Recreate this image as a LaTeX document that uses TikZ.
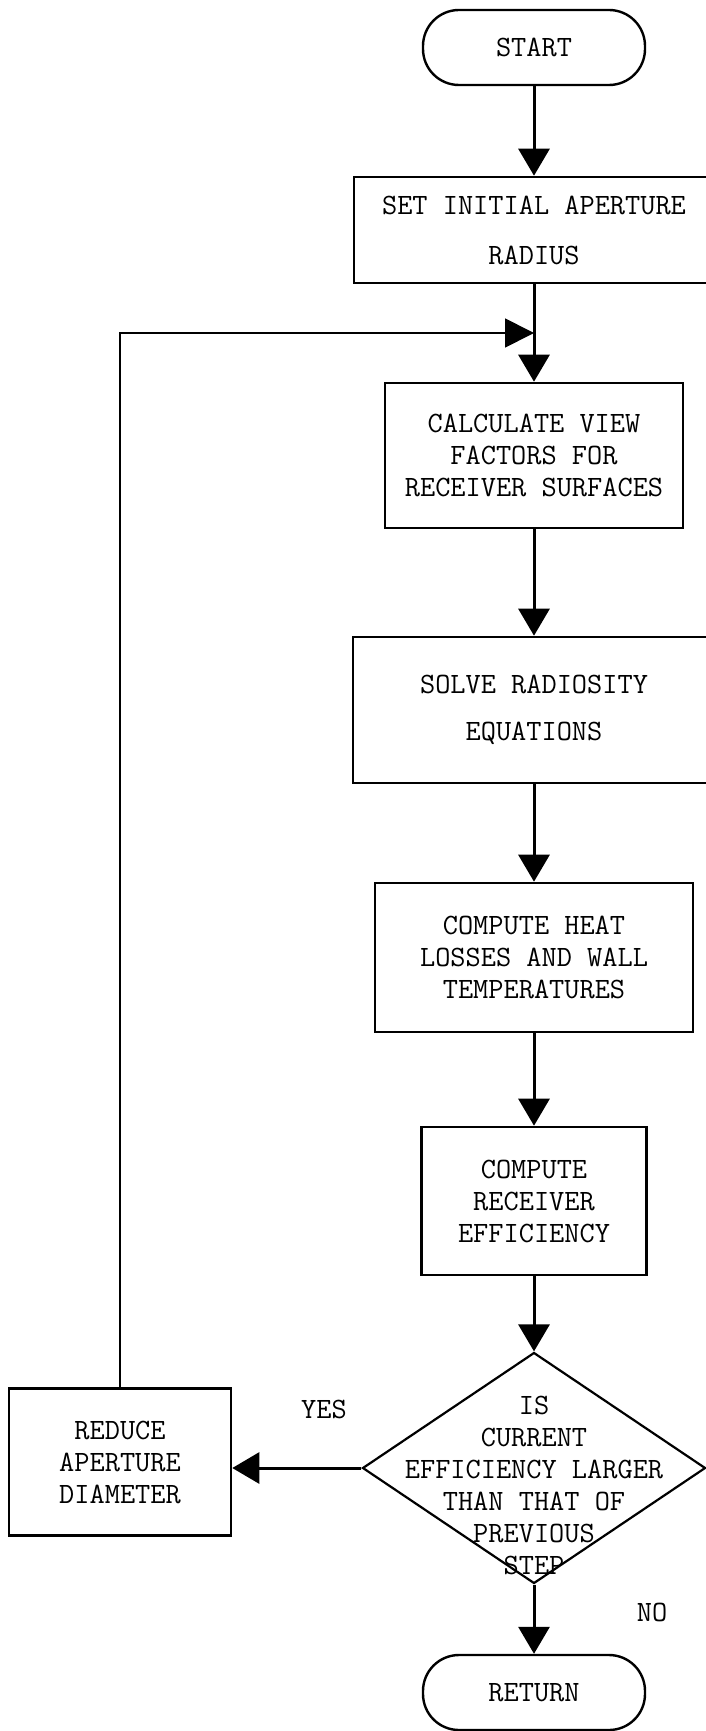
\documentclass[tikz,border=0pt]{standalone}
\usepackage{fontspec}
\usetikzlibrary{shapes.geometric,arrows.meta,positioning,calc}

\begin{document}
\begin{tikzpicture}[
    x=1pt, y=-1pt,
    every node/.style={font=\ttfamily\fontsize{29.5}{32}\selectfont},
    terminal/.style={rectangle, draw, line width=2.4pt, rounded corners=36pt, minimum width=222pt, minimum height=75pt},
    process/.style={rectangle, draw, line width=2.6pt, align=center, inner sep=0pt},
    decision/.style={diamond, draw, line width=2.2pt, minimum width=343pt, minimum height=231pt, inner sep=0pt},
    flow/.style={line width=3pt, -{Triangle[length=27pt, width=31pt]}},
    loopback/.style={line width=1.8pt, -{Triangle[length=29pt, width=29pt]}}
]

\useasboundingbox[fill=white] (0,0) rectangle (705,1731);

% Start
\node[terminal] (start) at (534, 47.5) {START};

% Main column of steps
\node[process, minimum width=360pt, minimum height=106pt] (setrad) at (534, 230) {SET INITIAL APERTURE\\[18pt]RADIUS};
\node[process, minimum width=298pt, minimum height=145pt] (calc) at (534, 455.5) {CALCULATE VIEW\\FACTORS FOR\\RECEIVER SURFACES};
\node[process, minimum width=362pt, minimum height=146pt] (solve) at (534, 710) {SOLVE RADIOSITY\\[15pt]EQUATIONS};
\node[process, minimum width=318pt, minimum height=149pt] (heat) at (534, 957.5) {COMPUTE HEAT\\LOSSES AND WALL\\TEMPERATURES};
\node[process, minimum width=225pt, minimum height=148pt] (eff) at (534, 1201) {COMPUTE\\RECEIVER\\EFFICIENCY};

% Decision - text placed over the diamond
\node[decision] (test) at (534, 1468) {};
\node[align=center] (testtext) at ([yshift=-17pt]test.center) {IS\\CURRENT\\EFFICIENCY LARGER\\THAN THAT OF\\PREVIOUS\\STEP};

% Loop box on the left
\node[process, minimum width=222pt, minimum height=147pt] (reduce) at (120, 1462) {REDUCE\\APERTURE\\DIAMETER};

% Return
\node[terminal] (ret) at (534, 1692.5) {RETURN};

% Branch labels
\node (yes) at (324, 1409) {YES};
\node (no) at (652, 1612) {NO};

% Connectors
\coordinate (junc) at ($(setrad.south)!0.5!(calc.north)$);
\draw[flow] (start) -- (setrad);
\draw[flow] (setrad) -- (calc);
\draw[flow] (calc) -- (solve);
\draw[flow] (solve) -- (heat);
\draw[flow] (heat) -- (eff);
\draw[flow] (eff) -- (test);
\draw[flow] (test.west) -- (test.west -| reduce.east);
\draw[flow] (test) -- (ret);

% Loop back to the view factor step
\draw[loopback] (reduce.north) |- (junc);

\end{tikzpicture}
\end{document}
